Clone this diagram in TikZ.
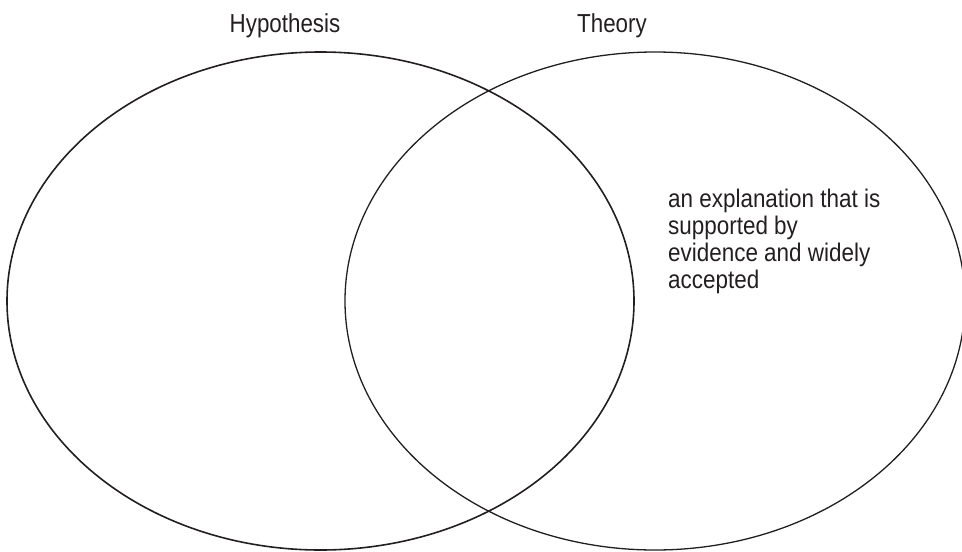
\documentclass[tikz,border=0pt]{standalone}
\usepackage{fontspec}
\setmainfont{Liberation Sans}[FakeStretch=0.86]
\newfontfamily\bodyfont{Liberation Sans}[FakeStretch=0.88]
\definecolor{ink}{HTML}{231F20}
\begin{document}
\begin{tikzpicture}[x=1pt,y=-1pt,
  setcircle/.style={draw=ink,line width=1.6pt},
  title/.style={font=\fontsize{26}{28}\selectfont,anchor=base,inner sep=0pt,text=ink},
  body/.style={font=\bodyfont\fontsize{25.5}{27}\selectfont,align=left,anchor=north west,inner sep=0pt,text=ink}]
\useasboundingbox (0,0) rectangle (962,552);
\draw[setcircle] (320.5,301) ellipse [x radius=313.5, y radius=249];
\draw[setcircle,line width=1.3pt] (655,301) ellipse [x radius=310, y radius=249];
\node[title] (hyp) at (285,32) {Hypothesis};
\node[title] (theo) at (612,32) {Theory};
\node[body] (def) at (668,189) {an explanation that is\\supported by\\evidence and widely\\accepted};
\end{tikzpicture}
\end{document}
